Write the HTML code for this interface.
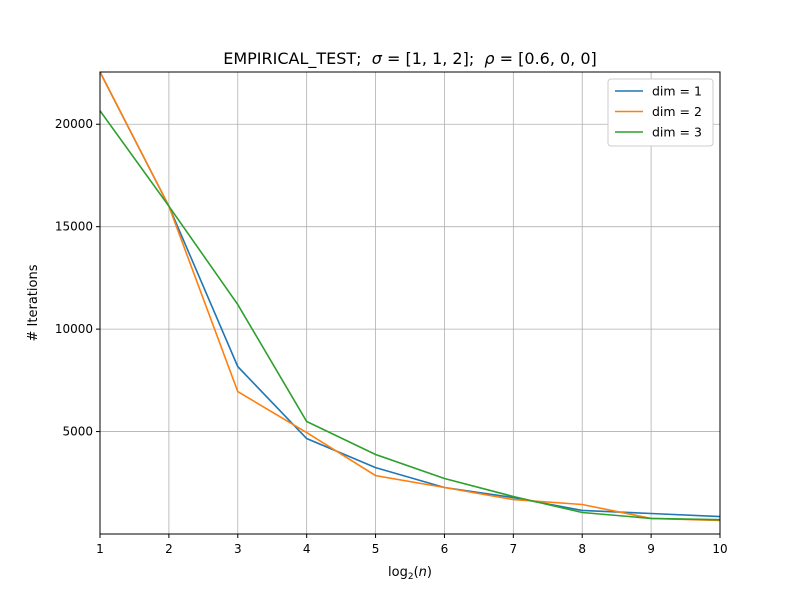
<!DOCTYPE html>
<html><head><meta charset="utf-8"><style>
body{margin:0;background:#fff;font-family:"DejaVu Sans","Liberation Sans",sans-serif}
svg text{font-family:"DejaVu Sans","Liberation Sans",sans-serif}
</style></head><body>
<svg id="chart" width="800" height="600" xmlns="http://www.w3.org/2000/svg">
<rect width="800" height="600" fill="#fff"/>
<g id="grid"></g><g id="lines"></g><g id="axes"></g>
<text x="410" y="64" text-anchor="middle" font-size="16" style="white-space:pre">EMPIRICAL_TEST;  <tspan font-style="italic">σ</tspan> = [1, 1, 2];  <tspan font-style="italic">ρ</tspan> = [0.6, 0, 0]</text>
<text x="410" y="576" text-anchor="middle" font-size="13">log<tspan font-size="9" dy="3">2</tspan><tspan dy="-3">(</tspan><tspan font-style="italic">n</tspan>)</text>
<text transform="translate(37,303) rotate(-90)" text-anchor="middle" font-size="13"># Iterations</text>
<g>
<rect x="608" y="79" width="105" height="67" fill="#fff" stroke="#ccc" rx="3"/>
<g id="legend"></g>
</g>
</svg>
<script>
const xValues=[1,2,3,4,5,6,7,8,9,10];
const dim1=[22550,16000,8170,4660,3240,2270,1780,1150,1000,850];
const dim2=[22550,16000,6950,4950,2850,2270,1680,1440,760,660];
const dim3=[20660,16000,11200,5490,3880,2710,1830,1050,760,700];
const yTicks=[5000,10000,15000,20000];
const seriesNames=["dim = 1","dim = 2","dim = 3"];
const colors=["#1f77b4","#ff7f0e","#2ca02c"];
const L=100,R=720,T=72,B=534,YMAX=22550;
const X=v=>L+(v-1)/9*(R-L);
const Y=v=>B-v/YMAX*(B-T);
const NS="http://www.w3.org/2000/svg";
function mk(tag,attrs,parent){const e=document.createElementNS(NS,tag);for(const k in attrs)e.setAttribute(k,attrs[k]);parent.appendChild(e);return e;}
const grid=document.getElementById('grid'),axes=document.getElementById('axes'),lines=document.getElementById('lines'),leg=document.getElementById('legend');
xValues.forEach(v=>{
 const gl=mk('line',{x1:X(v),x2:X(v),y1:T,y2:B,stroke:'#b0b0b0','stroke-width':0.8},grid);
 
 
 mk('line',{x1:X(v),x2:X(v),y1:B,y2:B+4,stroke:'#000'},axes);
 const t=mk('text',{x:X(v),y:B+19,'text-anchor':'middle','font-size':12},axes);
 
 
 t.textContent=v;
});
yTicks.forEach(v=>{
 const gl=mk('line',{x1:L,x2:R,y1:Y(v),y2:Y(v),stroke:'#b0b0b0','stroke-width':0.8},grid);
 
 
 mk('line',{x1:L-4,x2:L,y1:Y(v),y2:Y(v),stroke:'#000'},axes);
 const t=mk('text',{x:L-7,y:Y(v)+4,'text-anchor':'end','font-size':12},axes);
 
 
 t.textContent=v;
});
const frame=mk('rect',{x:L,y:T,width:R-L,height:B-T,fill:'none',stroke:'#000','stroke-width':1},axes);


[dim1,dim2,dim3].forEach((s,i)=>{
 const p=mk('polyline',{points:s.map((v,j)=>X(xValues[j])+','+Y(v)).join(' '),fill:'none',stroke:colors[i],'stroke-width':1.6},lines);
 
 
 const y=91+i*20.5;
 mk('line',{x1:615,x2:643,y1:y,y2:y,stroke:colors[i],'stroke-width':1.6},leg);
 const t=mk('text',{x:652,y:y+4.5,'font-size':12.5},leg);
 
 
 t.textContent=seriesNames[i];
});
</script>
</body></html>
